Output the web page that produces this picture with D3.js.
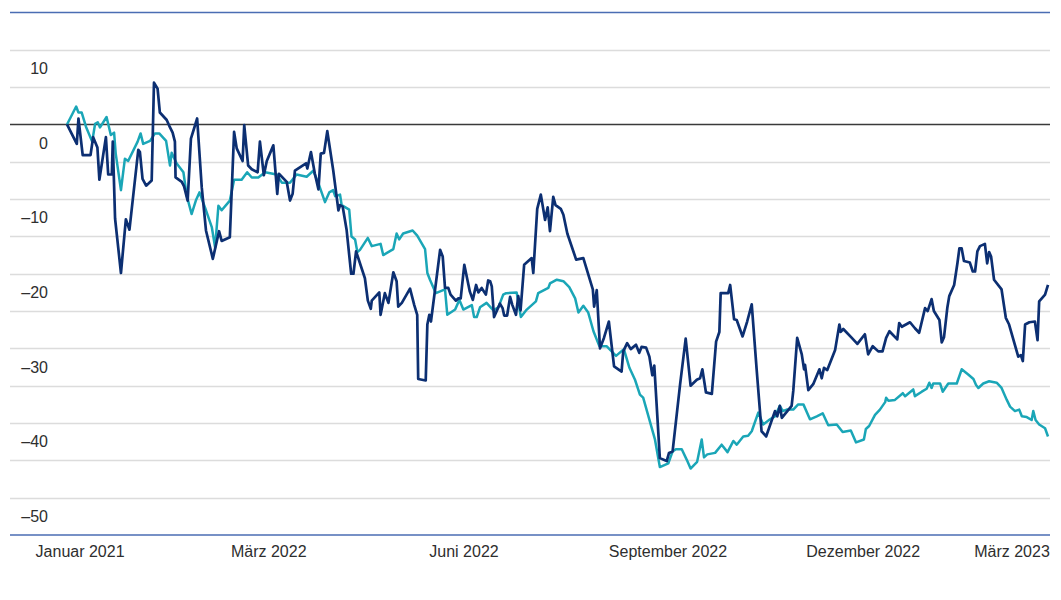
<!DOCTYPE html>
<html>
<head>
<meta charset="utf-8">
<script src="https://cdn.jsdelivr.net/npm/d3@7"></script>
<style>
  body { margin: 0; background: #fff; }
  svg text { font-family: "Liberation Sans", Arial, sans-serif; fill: #2e2e2e; }
</style>
</head>
<body>
<div id="chart"></div>
<script>
// x = Handelstag seit Start, y = Veränderung in %
const serieDunkel = [
  [0,0],[3,-2.6],[3.5,0.8],[4.8,-4.1],[7.2,-4.1],[8,-1.7],[9.3,-3.1],[9.9,-7.4],[11.9,-1.7],[12.6,-6.7],
  [13.7,-6.7],[14,-2.3],[14.7,-12.6],[16.5,-19.9],[18,-12.7],[19.1,-14.1],[21.8,-3.4],[22.3,-3.7],[23.1,-7.3],[24.2,-8.2],
  [25.9,-7.5],[26.6,5.6],[27.7,4.8],[28.4,1.6],[30.5,0.6],[31.5,-0.4],[32.3,-1.1],[33,-2.3],[33.2,-7.1],[35.1,-7.7],
  [35.8,-8.3],[36.9,-10.2],[37.9,-1.9],[39.8,0.8],[41.2,-8.4],[42.5,-14.2],[44.6,-18],[46.5,-14.3],[47.3,-15.6],[49.8,-15.1],
  [51.1,-1],[51.9,-3.2],[53.7,-4.9],[54.2,-0.1],[55.4,-5.5],[56.5,-6],[58.3,-6.4],[59,-2.3],[60.2,-6.8],[61.1,-4.9],
  [63.1,-2.8],[64.3,-9.3],[64.8,-6.6],[67.2,-7.7],[68.2,-10.2],[69,-9.3],[69.7,-6.2],[73.1,-5.2],[73.5,-5.9],[74.6,-3.7],
  [75.8,-6.6],[76.9,-8.7],[77.6,-3.9],[78.6,-3.8],[79.6,-0.9],[81.4,-6.1],[83,-11.5],[83.5,-10.8],[84.3,-11],[85.5,-14.1],
  [86.9,-20],[87.6,-20],[88.4,-17],[91.1,-20.6],[92,-23.6],[92.9,-24.7],[93.2,-23.6],[95.5,-22.5],[95.9,-25.5],[97.2,-22.6],
  [98.3,-23.9],[99.8,-19.8],[100.8,-21],[101.3,-24.4],[102.4,-23.9],[104.9,-22],[106.2,-24.2],[107.1,-25.5],[107.4,-34.1],[109.7,-34.3],
  [110.2,-26.8],[110.8,-25.5],[111.3,-26.4],[112.8,-21.3],[114.1,-16.8],[114.9,-17.7],[115.6,-21.9],[116.6,-21.9],[117.3,-22.8],[118.9,-23.6],
  [119.7,-23.3],[120.4,-23.3],[121.5,-18.8],[123.2,-22.4],[124.1,-23.5],[125.1,-21.5],[125.8,-22.5],[126.8,-21.9],[128.1,-22.8],[128.8,-20.9],
  [129.4,-21],[129.9,-21.7],[130.6,-25.8],[132.4,-24],[133.2,-24.6],[133.7,-25.6],[134.6,-25.6],[135.5,-23.1],[136.2,-24.2],[137.3,-25.5],
  [138,-23],[138.7,-24.9],[139.8,-18.8],[142.1,-17.9],[142.6,-19.9],[143.8,-11.3],[144.9,-9.4],[146.2,-12.8],[147,-11.1],[147.7,-14.3],
  [148.7,-9.7],[149.4,-10.8],[151,-11.3],[151.8,-12.1],[153,-14.6],[155.7,-18.1],[157.9,-17.9],[160.8,-22.1],[161.2,-24.4],[162,-22.2],
  [163,-30],[164.2,-28.6],[165.7,-26.4],[167.3,-32.4],[169.6,-33.1],[170.1,-30.4],[171.3,-29.3],[172.4,-30.1],[174,-29.5],[175,-30.6],
  [175.7,-29.8],[177.1,-29.9],[178.1,-31.1],[179,-33.6],[179.6,-32.3],[181.3,-44.7],[183.4,-45.1],[184.1,-44],[185.2,-43.8],[187.5,-34.8],
  [189.2,-28.7],[190.7,-35],[192.6,-34.2],[193.6,-34],[194.3,-32.8],[195.4,-35.9],[197.2,-36.1],[198.5,-29.1],[199.5,-27.8],[199.9,-22.6],
  [202.2,-22.6],[202.8,-21.5],[204,-26.1],[204.8,-26.2],[206.6,-28.4],[208,-26.4],[209.4,-24.1],[210.9,-32.8],[212.4,-41.1],[213.8,-41.8],
  [216.5,-38.4],[217.2,-39.1],[218,-37.7],[218.6,-39.3],[221.6,-37.7],[222.1,-35.7],[223.3,-28.6],[224.7,-30.8],[225.4,-32.8],[225.7,-32.2],
  [226.7,-35.6],[228.2,-34.8],[230.1,-32.8],[230.8,-34],[231.5,-32.6],[232.5,-32.9],[234.9,-30.2],[236.2,-26.8],[236.6,-27.8],[237.4,-27.4],
  [240,-28.6],[241.7,-29.4],[244,-28.1],[245,-30.8],[246.4,-29.7],[248.1,-30.4],[249.4,-30.4],[250.5,-28.6],[251.5,-27.7],[253.9,-28.8],
  [254.5,-26.6],[255.3,-27.1],[257.8,-26.5],[259.3,-27.3],[260.6,-27.9],[262.4,-24.6],[263.2,-25],[264.4,-23.4],[265.1,-25],[266.8,-26.2],
  [267.5,-29.2],[268.2,-28.5],[269.2,-24.6],[269.8,-23],[271.3,-21.5],[272.3,-18.6],[272.9,-16.6],[273.6,-16.6],[274.3,-18.3],[276.1,-18.5],
  [277,-19.7],[277.7,-19.7],[278.4,-17],[279.2,-16.3],[280.7,-16],[281.4,-18.6],[282,-17.1],[282.6,-17.7],[283.5,-20.8],[285.8,-22.1],
  [287.1,-25.9],[288.1,-26.8],[290.9,-31.1],[291.7,-30.9],[292.3,-31.7],[293,-26.8],[294.3,-26.5],[296,-26.4],[296.8,-28.9],[297.3,-23.7],
  [299.1,-22.8],[300,-21.5]
];

const serieTuerkis = [
  [0,0],[2.8,2.4],[3.5,1.6],[4.5,1.6],[5.8,-0.3],[7.7,-2.3],[8.6,0.1],[9.4,0.3],[10.1,-0.4],[12.1,1],
  [13.4,-1.4],[14.4,-1.1],[14.9,-3.9],[16.5,-8.8],[17.7,-4.6],[18.7,-4.9],[21.6,-2.3],[22.5,-1.2],[23.3,-2.6],[25.4,-2.2],
  [26.9,-1.2],[28.2,-1.2],[30.3,-2.2],[31.5,-5.5],[32,-3.8],[33.5,-5.2],[35.6,-6.4],[36.6,-9.5],[38.1,-12],[39.4,-10.2],
  [40.5,-9.1],[42.2,-11.1],[44.3,-13.8],[45.3,-16.5],[46.3,-10.9],[47.3,-11.5],[49.8,-10.2],[51.1,-7.4],[53.4,-7.4],[55.1,-6.4],
  [56.5,-7.1],[58.5,-7.1],[60.6,-6.4],[64.1,-6.7],[65.7,-7.8],[68.2,-7.8],[70.2,-6.7],[73.3,-7],[75.3,-6.2],[76.9,-7.9],
  [78.9,-10.4],[80.2,-9.1],[81.4,-8.8],[82,-9.6],[83.5,-9.4],[84,-10.8],[86.3,-11.4],[87,-15],[88.1,-15.4],[88.8,-17.1],
  [89.6,-16.8],[92,-15.2],[93.2,-16.3],[95.9,-16],[96.7,-17.5],[99.8,-16.7],[100.8,-14.6],[101.6,-15.4],[102.8,-14.6],[105.7,-14.2],
  [107.1,-14.9],[109.5,-16.7],[110.2,-19.9],[111,-20.8],[112.8,-22.6],[115.6,-22.1],[116.3,-25.5],[118.7,-24.8],[120,-23.5],[121.2,-24.8],
  [123.8,-24.2],[124.5,-25.8],[125.3,-25.8],[126.3,-24.5],[128.3,-23.9],[130.4,-24.9],[131.9,-24.5],[133.4,-22.8],[134.3,-22.6],[137.5,-22.5],
  [138.8,-25.8],[140.6,-24.8],[143.4,-23.7],[144.1,-22.6],[147.2,-21.9],[147.7,-21.3],[149.8,-20.8],[151.8,-21],[153.6,-21.8],[155.4,-23.3],
  [156.4,-25.2],[157.9,-24.3],[159.4,-25.2],[161,-27.7],[162.8,-29.7],[165,-29.7],[167.9,-31],[170.3,-30.1],[172,-32.6],[173.7,-34.2],
  [175.2,-36.2],[176.2,-36.6],[179.8,-42.2],[181.3,-45.9],[183.9,-45.4],[185.2,-43.8],[186.2,-43.5],[188,-43.5],[189.5,-44.9],[190.7,-46.1],
  [192.7,-45.2],[194.1,-42.2],[194.8,-44.6],[195.8,-44.2],[198.2,-44],[200.2,-42.9],[202,-43.9],[203.8,-42.4],[204.8,-42.9],[206.8,-41.8],
  [208.3,-41.7],[209.4,-41.1],[211.4,-38.6],[212.9,-40.2],[215,-39.5],[216.5,-39.1],[218,-37.7],[218.9,-38.4],[220.1,-38.2],[222.1,-38.2],
  [223.6,-37.5],[225.2,-37.5],[227.2,-39.5],[229.3,-39.1],[231.1,-38.7],[232.8,-40.3],[235.4,-40.2],[237.2,-41.2],[239.7,-41],[241.3,-42.6],
  [243.7,-42.2],[244.3,-40.8],[245.3,-40.4],[247.1,-38.9],[248.6,-38.2],[250.2,-37.2],[250.5,-36.6],[251.2,-37],[253.2,-36.9],[255.6,-36],
  [256.3,-36.4],[258.8,-35.5],[259.3,-36.4],[261.4,-35.8],[262.9,-35.4],[263.7,-34.6],[264.4,-35.3],[264.9,-34.7],[267,-34.7],[267.8,-35.8],
  [269.5,-34.7],[272.1,-34.7],[273.6,-32.8],[275.6,-33.5],[277.2,-34.1],[278,-34.9],[278.7,-35.3],[280.2,-34.7],[282,-34.4],[284.3,-34.6],
  [285.8,-35.3],[287.4,-36.9],[288.4,-37.8],[289.9,-38.4],[291.2,-38.2],[292,-39.1],[293.5,-39.2],[295,-39.6],[295.5,-38.4],[296.2,-39.6],
  [297.3,-40.2],[299.1,-40.7],[300,-41.8]
];

const yTicks = [10, 0, -10, -20, -30, -40, -50];
const xTickTage = [4, 61.7, 121.4, 183.8, 243.5, 289];
const xTickLabels = ["Januar 2021", "März 2022", "Juni 2022", "September 2022", "Dezember 2022", "März 2023"];

const width = 1061;
const height = 600;
const margin = { top: 12.5, right: 11, bottom: 65, left: 10 };

const svg = d3.select("#chart")
  .append("svg")
  .attr("width", width)
  .attr("height", height);

const x = d3.scaleLinear()
  .domain([0, 300])
  .range([67, 1048]);

const y = d3.scaleLinear()
  .domain([-55, 15])
  .range([height - margin.bottom, margin.top]);

// Gitterlinien alle 5 Punkte
svg.append("g")
  .selectAll("line")
  .data(d3.range(-50, 15, 5))
  .join("line")
  .attr("x1", margin.left)
  .attr("x2", width - margin.right)
  .attr("y1", d => Math.round(y(d)) + 0.5)
  .attr("y2", d => Math.round(y(d)) + 0.5)
  .attr("stroke", d => d === 0 ? "#3a3a3a" : "#dcdcdc")
  .attr("stroke-width", 1.3);

// obere und untere Begrenzung
svg.append("g")
  .selectAll("line")
  .data([15, -55])
  .join("line")
  .attr("x1", margin.left)
  .attr("x2", width - margin.right)
  .attr("y1", d => y(d))
  .attr("y2", d => y(d))
  .attr("stroke", "#4a6db3")
  .attr("stroke-width", 1.5);

// y-Beschriftung sitzt mittig unter der jeweiligen Linie
svg.append("g")
  .selectAll("text")
  .data(yTicks)
  .join("text")
  .attr("x", 48)
  .attr("y", d => y(d - 2.5))
  .attr("dy", "0.35em")
  .attr("text-anchor", "end")
  .attr("font-size", "16px")
  .text(d => d < 0 ? "–" + Math.abs(d) : d);

svg.append("g")
  .selectAll("text")
  .data(xTickTage)
  .join("text")
  .attr("x", d => x(d))
  .attr("y", 557)
  .attr("text-anchor", "middle")
  .attr("font-size", "16px")
  .text((d, i) => xTickLabels[i]);

const line = d3.line()
  .x(d => x(d[0]))
  .y(d => y(d[1]));

svg.append("path")
  .datum(serieTuerkis)
  .attr("fill", "none")
  .attr("stroke", "#1aa6b7")
  .attr("stroke-width", 2.5)
  .attr("stroke-linejoin", "round")
  .attr("d", line);

svg.append("path")
  .datum(serieDunkel)
  .attr("fill", "none")
  .attr("stroke", "#0c2f72")
  .attr("stroke-width", 2.7)
  .attr("stroke-linejoin", "round")
  .attr("d", line);
</script>
</body>
</html>
